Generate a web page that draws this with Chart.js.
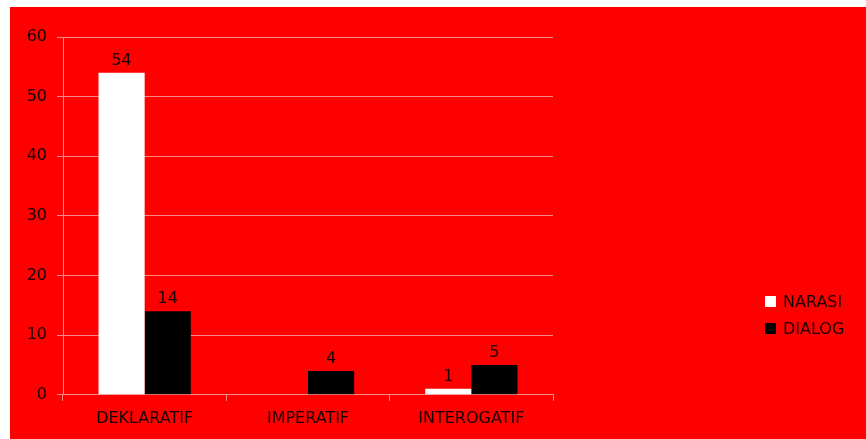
<!DOCTYPE html>
<html>
<head>
<meta charset="utf-8">
<title>Jenis Kalimat</title>
<script src="https://cdn.jsdelivr.net/npm/chart.js@4.4.1/dist/chart.umd.min.js"></script>
<style>
  html, body { margin: 0; padding: 0; background: #fff; }
  #wrap {
    position: absolute; left: 10px; top: 7px;
    width: 856px; height: 432px; background: #ff0000;
  }
  #chart { position: absolute; left: 0; top: 0; }
  #legend {
    position: absolute; left: 755px; top: 281px;
    font-family: 'DejaVu Sans', sans-serif; font-size: 16px; color: #1a0000;
  }
  #legend .item { height: 27px; display: flex; align-items: center; }
  #legend .swatch { width: 11px; height: 11px; margin-right: 7px; }
</style>
</head>
<body>
<div id="wrap">
  <canvas id="chart" width="856" height="432"></canvas>
  <div id="legend"></div>
</div>
<script>
'use strict';

/* ---- data ---- */
const categories = ['DEKLARATIF', 'IMPERATIF', 'INTEROGATIF'];
const narasi     = [54, 0, 1];
const dialog     = [14, 4, 5];
const yTicks     = [0, 10, 20, 30, 40, 50, 60];

const seriesNames  = ['NARASI', 'DIALOG'];
const seriesColors = ['#ffffff', '#000000'];

const FONT = "'DejaVu Sans', sans-serif";
const TEXT = '#1a0000';
const GRID = '#f58a8a';

/* ---- value labels above bars ---- */
const barValues = {
  id: 'barValues',
  afterDatasetsDraw(chart) {
    const ctx = chart.ctx;
    ctx.save();
    ctx.font = '16px ' + FONT;
    ctx.fillStyle = TEXT;
    ctx.textAlign = 'center';
    ctx.textBaseline = 'bottom';
    chart.data.datasets.forEach((ds, i) => {
      chart.getDatasetMeta(i).data.forEach((bar, j) => {
        const v = ds.data[j];
        if (!v) return;
        ctx.fillText(String(v), bar.x, bar.y - 4);
      });
    });
    ctx.restore();
  }
};

new Chart(document.getElementById('chart'), {
  type: 'bar',
  data: {
    labels: categories,
    datasets: [
      { label: seriesNames[0], data: narasi, backgroundColor: seriesColors[0] },
      { label: seriesNames[1], data: dialog, backgroundColor: seriesColors[1] }
    ]
  },
  options: {
    responsive: false,
    devicePixelRatio: 1,
    animation: false,
    layout: { padding: { left: 0, top: 30, right: 313, bottom: 3 } },
    datasets: {
      bar: { categoryPercentage: 0.565, barPercentage: 1.0, borderWidth: 0 }
    },
    plugins: {
      legend: { display: false },
      tooltip: { enabled: false }
    },
    scales: {
      x: {
        grid: { display: true, drawOnChartArea: false, drawTicks: true, tickLength: 6, color: GRID, offset: true },
        border: { display: true, color: GRID },
        ticks: { color: TEXT, font: { family: FONT, size: 16 }, padding: 8, maxRotation: 0 }
      },
      y: {
        min: 0,
        max: 60,
        afterFit(s) { s.width = 53; },
        afterBuildTicks(s) { s.ticks = yTicks.map(v => ({ value: v })); },
        grid: { color: GRID, tickLength: 6 },
        border: { display: true, color: GRID },
        ticks: { color: TEXT, font: { family: FONT, size: 16 }, padding: 10 }
      }
    }
  },
  plugins: [barValues]
});

/* ---- legend ---- */
const legendEl = document.getElementById('legend');
seriesNames.forEach((name, i) => {
  const item = document.createElement('div');
  item.className = 'item';
  const sw = document.createElement('span');
  sw.className = 'swatch';
  sw.style.background = seriesColors[i];
  const txt = document.createElement('span');
  txt.textContent = name;
  item.appendChild(sw);
  item.appendChild(txt);
  legendEl.appendChild(item);
});
</script>
</body>
</html>
